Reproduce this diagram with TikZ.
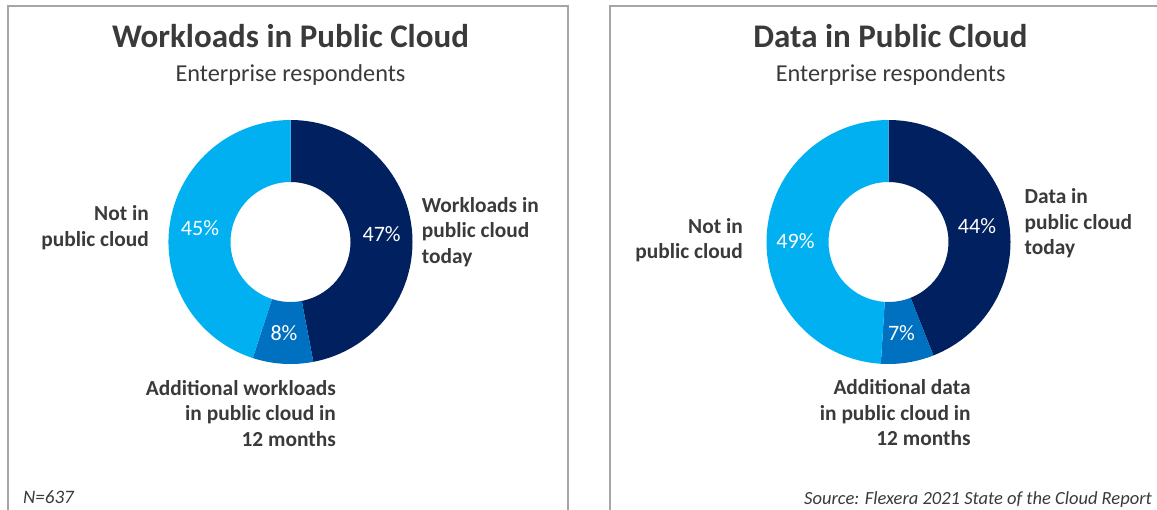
\documentclass[tikz,border=0pt]{standalone}
\usepackage{fontspec}
\setmainfont{Carlito}
\definecolor{txt}{HTML}{3A3A3A}
\definecolor{navy}{HTML}{002060}
\definecolor{midblue}{HTML}{0070C0}
\definecolor{lightblue}{HTML}{00B0F0}
\definecolor{frame}{HTML}{A6A6A6}
\newcommand\mydonutseg[5]{%
  \fill[#5, shift={(#1,#2)}] (#3:122) arc[start angle=#3, end angle=#4, radius=122]
    -- (#4:60) arc[start angle=#4, end angle=#3, radius=60] -- cycle;}
\begin{document}
\begin{tikzpicture}[x=1pt,y=1pt,
 title/.style={font=\fontsize{33}{38}\selectfont\bfseries, text=txt, inner sep=0, anchor=base},
 subtitle/.style={font=\fontsize{24.3}{29}\selectfont, text=txt, inner sep=0, anchor=base},
 lbl/.style={font=\fontsize{21.4}{25.5}\selectfont\bfseries, text=txt, inner sep=0},
 pct/.style={font=\fontsize{22}{26}\selectfont, text=white, inner sep=0, anchor=base},
 note/.style={font=\fontsize{19}{22}\selectfont\itshape, text=txt, inner sep=0, anchor=base west},
 panel/.style={draw=frame, line width=1.5pt}]
\useasboundingbox (0,0) rectangle (1157,-509);
\clip (0,0) rectangle (1157,-509);
\fill[white] (0,0) rectangle (1157,-509);
% panels
\draw[panel] (8,-515) -- (8,-6) -- (568,-6) -- (568,-515);
\draw[panel] (610,-515) -- (610,-6) -- (1170,-6);
% left donut
\mydonutseg{290.5}{-242}{90}{-79.2}{navy}
\mydonutseg{290.5}{-242}{-79.2}{-108}{midblue}
\mydonutseg{290.5}{-242}{-108}{-270}{lightblue}
% right donut
\mydonutseg{888.5}{-242}{90}{-68.4}{navy}
\mydonutseg{888.5}{-242}{-68.4}{-93.6}{midblue}
\mydonutseg{888.5}{-242}{-93.6}{-270}{lightblue}
% left texts
\node[title] (t1) at (290.5,-47.3) {Workloads in Public Cloud};
\node[subtitle] (s1) at (290.5,-81) {Enterprise respondents};
\node[lbl, align=left, anchor=base west] (w1) at (421.7,-263) {Workloads in\\public cloud\\today};
\node[lbl, align=right, anchor=base east] (n1) at (149,-246) {Not in\\public cloud};
\node[lbl, align=right, anchor=base east] (a1) at (336,-446) {Additional workloads\\in public cloud in\\12 months};
\node[pct] (p1a) at (381.7,-241) {47\%};
\node[pct] (p1b) at (284,-340.7) {8\%};
\node[pct] (p1c) at (200,-235.7) {45\%};
\node[note] (nn) at (23,-503) {N=637};
% right texts
\node[title] (t2) at (890.5,-47.3) {Data in Public Cloud};
\node[subtitle] (s2) at (890.7,-81) {Enterprise respondents};
\node[lbl, align=left, anchor=base west] (w2) at (1024.5,-254.5) {Data in\\public cloud\\today};
\node[lbl, align=right, anchor=base east] (n2) at (743,-258.5) {Not in\\public cloud};
\node[lbl, align=right, anchor=base east] (a2) at (970.7,-445.5) {Additional data\\in public cloud in\\12 months};
\node[pct] (p2a) at (977,-233) {44\%};
\node[pct] (p2b) at (901.5,-340.7) {7\%};
\node[pct] (p2c) at (795.5,-248) {49\%};
\node[note, font=\fontsize{18.5}{22}\selectfont\itshape] (src) at (804,-504) {Source: Flexera 2021 State of the Cloud Report};
\end{tikzpicture}
\end{document}
